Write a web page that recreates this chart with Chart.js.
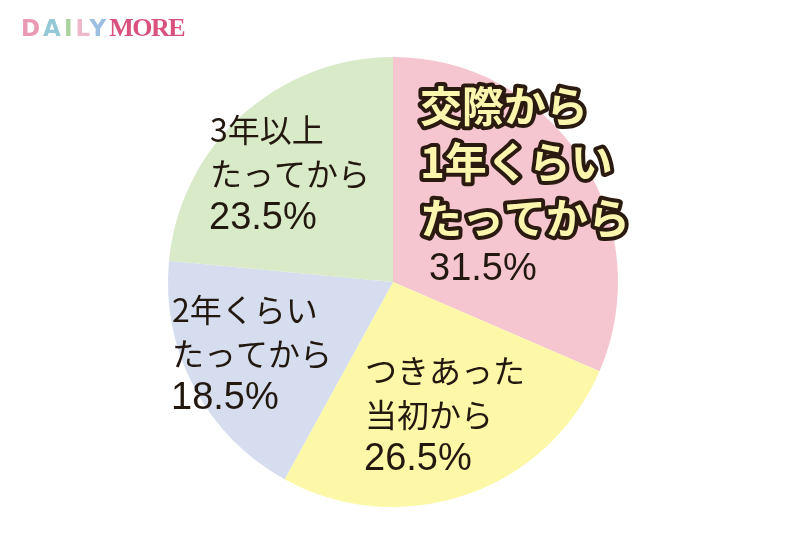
<!DOCTYPE html>
<html>
<head>
<meta charset="utf-8">
<script src="https://cdn.jsdelivr.net/npm/chart.js@4/dist/chart.umd.min.js"></script>
<style>
  html, body { margin: 0; padding: 0; background: #fff; }
  #wrap { position: relative; width: 800px; height: 559px; }
  #logo { position: absolute; left: 21px; top: 13px; line-height: 30px; white-space: nowrap; }
  #logo .d { font-family: "DejaVu Sans", sans-serif; font-weight: bold; letter-spacing: 3px; font-size: 23px; opacity: 0.75; }
  #logo .m { font-family: "Liberation Serif", serif; font-weight: bold; color: #d9527d; letter-spacing: -1.5px; font-size: 26px; }
</style>
</head>
<body>
<div id="wrap">
  <canvas id="pieChart" width="800" height="559"></canvas>
  <div id="logo"><span class="d"><span style="color:#e2789a">D</span><span style="color:#6fb7c9">A</span><span style="color:#8cc47a">I</span><span style="color:#e6a0b8">L</span><span style="color:#7aa9d8">Y</span></span><span class="m">MORE</span></div>
</div>
<script>
// 交際からどのくらいで結婚を意識したか
const categories = ["交際から1年くらいたってから", "つきあった当初から", "2年くらいたってから", "3年以上たってから"];
const values = [31.5, 26.5, 18.5, 23.5];
const labelLines = [
  ["交際から", "1年くらい", "たってから"],
  ["つきあった", "当初から"],
  ["2年くらい", "たってから"],
  ["3年以上", "たってから"]
];
const colors = ["#f5c6d0", "#fdf8a7", "#d5ddef", "#d9eac8"];

// ラベル位置（円の中心からのずれ）
const labelPos = [
  { x: 27, y: -176, lh: 56, size: 42, big: true },
  { x: -28, y: 89, lh: 44, size: 32 },
  { x: -221, y: 28, lh: 44, size: 32 },
  { x: -183, y: -152, lh: 44, size: 32 }
];

const labelPlugin = {
  id: "sliceLabels",
  afterDatasetsDraw(chart) {
    const ctx = chart.ctx;
    const arc = chart.getDatasetMeta(0).data[0];
    const cx = arc.x, cy = arc.y;
    ctx.save();
    ctx.textAlign = "left";
    ctx.textBaseline = "middle";
    values.forEach((v, i) => {
      const p = labelPos[i];
      let y = cy + p.y;
      const x = cx + p.x;
      labelLines[i].forEach((line) => {
        if (p.big) {
          ctx.font = "bold " + p.size + "px 'Noto Sans CJK JP'";
          ctx.lineJoin = "round";
          ctx.lineWidth = 8;
          ctx.strokeStyle = "#2b1a10";
          ctx.strokeText(line, x, y);
          ctx.fillStyle = "#fbf6ad";
          ctx.fillText(line, x, y);
        } else {
          ctx.font = p.size + "px 'Noto Sans CJK JP'";
          ctx.fillStyle = "#22180f";
          ctx.fillText(line, x, y);
        }
        y += p.lh;
      });
      ctx.font = "38px 'Liberation Sans'";
      ctx.fillStyle = "#22180f";
      const py = p.big ? y - 4 : y + 1;
      ctx.fillText(v.toFixed(1) + "%", p.big ? x + 9 : x - 1, py);
    });
    ctx.restore();
  }
};

new Chart(document.getElementById("pieChart"), {
  type: "pie",
  data: {
    labels: categories,
    datasets: [{
      data: values,
      backgroundColor: colors,
      borderWidth: 0
    }]
  },
  options: {
    responsive: false,
    animation: false,
    layout: { padding: { top: 57, bottom: 52, left: 168, right: 182 } },
    plugins: {
      legend: { display: false },
      tooltip: { enabled: false }
    }
  },
  plugins: [labelPlugin]
});
</script>
</body>
</html>
